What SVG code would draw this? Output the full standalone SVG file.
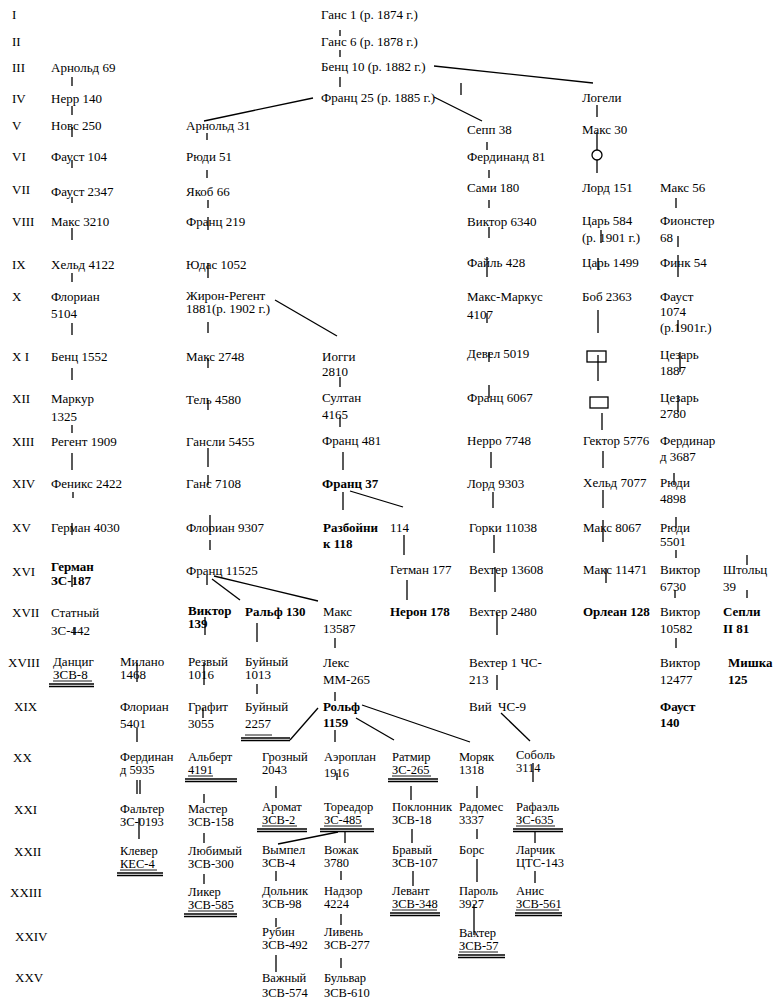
<svg xmlns="http://www.w3.org/2000/svg" width="773" height="1002" viewBox="0 0 773 1002">
<style>
text{font-family:"Liberation Serif","Times New Roman",serif;font-size:13px;fill:#000}
text.s{font-size:12.5px}
.b{font-weight:bold}
#connectors line{stroke:#000;stroke-width:1.3}
#connectors circle,#connectors rect{fill:none;stroke:#000;stroke-width:1.3}
.u1{stroke:#000;stroke-width:0.9}
.u2{stroke:#000;stroke-width:1.4}
</style>
<rect width="773" height="1002" fill="#fff"/>
<g id="rows">
<text x="12" y="19">I</text><text x="12" y="46">II</text><text x="12" y="72">III</text><text x="12" y="103">IV</text>
<text x="12" y="130">V</text><text x="12" y="161">VI</text><text x="12" y="194">VII</text><text x="12" y="226">VIII</text>
<text x="12" y="269">IX</text><text x="12" y="301">X</text><text x="12" y="361">X I</text><text x="12" y="403">XII</text>
<text x="12" y="446">XIII</text><text x="12" y="488">XIV</text><text x="12" y="532">XV</text><text x="12" y="576">XVI</text>
<text x="12" y="617">XVII</text><text x="8" y="667">XVIII</text><text x="14" y="711">XIX</text><text x="13" y="762">XX</text>
<text x="14" y="814">XXI</text><text x="14" y="856">XXII</text><text x="10" y="897">XXIII</text><text x="15" y="941">XXIV</text><text x="15" y="982">XXV</text>
</g>
<g id="connectors">
<line x1="340" y1="30" x2="340" y2="36"/><line x1="340" y1="50" x2="340" y2="57"/><line x1="340" y1="77" x2="340" y2="87"/>
<line x1="434" y1="66" x2="593" y2="83"/><line x1="461" y1="83" x2="461" y2="95"/>
<line x1="313" y1="98" x2="204" y2="121"/><line x1="434" y1="97" x2="482" y2="121"/>
<line x1="72" y1="77" x2="72" y2="86"/><line x1="72" y1="106" x2="72" y2="115"/><line x1="72" y1="127" x2="72" y2="137"/>
<line x1="72" y1="160" x2="72" y2="168"/><line x1="72" y1="197" x2="72" y2="203"/><line x1="72" y1="228" x2="72" y2="240"/>
<line x1="72" y1="273" x2="72" y2="282"/><line x1="72" y1="323" x2="72" y2="335"/><line x1="72" y1="368" x2="72" y2="380"/>
<line x1="72" y1="425" x2="72" y2="433"/><line x1="72" y1="453" x2="72" y2="470"/><line x1="73" y1="492" x2="73" y2="498"/>
<line x1="72" y1="523" x2="72" y2="535"/><line x1="72" y1="575" x2="72" y2="587"/><line x1="74" y1="627" x2="74" y2="635"/>
<line x1="207" y1="133" x2="207" y2="140"/><line x1="207" y1="170" x2="207" y2="178"/><line x1="208" y1="200" x2="208" y2="208"/>
<line x1="208" y1="217" x2="208" y2="230"/><line x1="208" y1="263" x2="208" y2="278"/><line x1="208" y1="322" x2="208" y2="333"/>
<line x1="208" y1="358" x2="208" y2="368"/><line x1="208" y1="400" x2="208" y2="410"/><line x1="208" y1="448" x2="208" y2="467"/>
<line x1="208" y1="475" x2="208" y2="485"/><line x1="210" y1="515" x2="210" y2="532"/><line x1="210" y1="540" x2="210" y2="550"/>
<line x1="207" y1="575" x2="207" y2="585"/>
<line x1="212" y1="579" x2="240" y2="600"/><line x1="214" y1="576" x2="318" y2="601"/>
<line x1="205" y1="617" x2="205" y2="635"/><line x1="257" y1="623" x2="257" y2="642"/><line x1="257" y1="684" x2="257" y2="694"/>
<line x1="204" y1="663" x2="204" y2="685"/><line x1="137" y1="663" x2="137" y2="682"/><line x1="203" y1="708" x2="203" y2="718"/>
<line x1="137" y1="728" x2="137" y2="742"/><line x1="290" y1="740" x2="318" y2="708"/>
<line x1="275" y1="300" x2="337" y2="336"/><line x1="340" y1="377" x2="340" y2="387"/><line x1="340" y1="417" x2="340" y2="427"/>
<line x1="343" y1="452" x2="343" y2="470"/><line x1="343" y1="492" x2="343" y2="510"/><line x1="350" y1="491" x2="403" y2="507"/>
<line x1="404" y1="535" x2="404" y2="555"/><line x1="407" y1="580" x2="407" y2="600"/>
<line x1="335" y1="638" x2="335" y2="648"/><line x1="335" y1="692" x2="335" y2="701"/><line x1="335" y1="730" x2="335" y2="742"/>
<line x1="356" y1="718" x2="394" y2="740"/><line x1="362" y1="705" x2="470" y2="742"/><line x1="501" y1="713" x2="530" y2="741"/>
<line x1="487" y1="142" x2="487" y2="150"/><line x1="489" y1="170" x2="489" y2="178"/><line x1="489" y1="200" x2="489" y2="208"/>
<line x1="489" y1="227" x2="489" y2="238"/><line x1="487" y1="257" x2="487" y2="277"/><line x1="487" y1="313" x2="487" y2="323"/>
<line x1="489" y1="352" x2="489" y2="362"/><line x1="489" y1="385" x2="489" y2="398"/><line x1="491" y1="452" x2="491" y2="468"/>
<line x1="493" y1="492" x2="493" y2="508"/><line x1="494" y1="535" x2="494" y2="553"/><line x1="495" y1="567" x2="495" y2="592"/>
<line x1="497" y1="613" x2="497" y2="635"/><line x1="497" y1="675" x2="497" y2="690"/>
<line x1="597" y1="105" x2="597" y2="117"/><line x1="597" y1="132" x2="597" y2="150"/><circle cx="597" cy="155" r="5"/>
<line x1="597" y1="160" x2="597" y2="173"/><line x1="601" y1="230" x2="601" y2="243"/><line x1="598" y1="258" x2="598" y2="270"/>
<line x1="598" y1="310" x2="598" y2="333"/><rect x="587" y="351" width="19" height="11"/><line x1="598" y1="355" x2="598" y2="381"/>
<rect x="590" y="397" width="18" height="11"/><line x1="602" y1="413" x2="602" y2="430"/><line x1="603" y1="451" x2="603" y2="468"/>
<line x1="603" y1="490" x2="603" y2="508"/><line x1="603" y1="520" x2="603" y2="542"/><line x1="606" y1="568" x2="606" y2="583"/>
<line x1="676" y1="198" x2="676" y2="208"/><line x1="678" y1="236" x2="678" y2="247"/><line x1="678" y1="255" x2="678" y2="277"/>
<line x1="678" y1="320" x2="678" y2="332"/><line x1="680" y1="352" x2="680" y2="372"/><line x1="678" y1="395" x2="678" y2="412"/>
<line x1="674" y1="473" x2="674" y2="485"/><line x1="676" y1="517" x2="676" y2="528"/><line x1="676" y1="550" x2="676" y2="558"/>
<line x1="675" y1="590" x2="675" y2="598"/><line x1="676" y1="638" x2="676" y2="648"/>
<line x1="747" y1="555" x2="747" y2="565"/><line x1="747" y1="590" x2="747" y2="598"/>
<line x1="137" y1="780" x2="137" y2="794"/><line x1="140" y1="780" x2="140" y2="794"/><line x1="139" y1="818" x2="139" y2="839"/>
<line x1="204" y1="794" x2="204" y2="803"/><line x1="204" y1="833" x2="204" y2="843"/><line x1="204" y1="874" x2="204" y2="884"/>
<line x1="276" y1="786" x2="276" y2="798"/><line x1="337" y1="773" x2="337" y2="780"/><line x1="338" y1="832" x2="278" y2="844"/>
<line x1="345" y1="832" x2="345" y2="843"/><line x1="411" y1="786" x2="411" y2="800"/><line x1="412" y1="829" x2="412" y2="843"/>
<line x1="413" y1="871" x2="413" y2="886"/><line x1="477" y1="786" x2="477" y2="798"/><line x1="477" y1="829" x2="477" y2="839"/>
<line x1="477" y1="859" x2="477" y2="882"/><line x1="474" y1="904" x2="474" y2="935"/>
<line x1="276" y1="871" x2="276" y2="881"/><line x1="276" y1="918" x2="276" y2="927"/><line x1="276" y1="955" x2="276" y2="972"/>
<line x1="341" y1="871" x2="341" y2="880"/><line x1="341" y1="914" x2="341" y2="925"/><line x1="341" y1="958" x2="341" y2="968"/>
<line x1="533" y1="763" x2="533" y2="782"/><line x1="535" y1="832" x2="535" y2="843"/><line x1="535" y1="871" x2="535" y2="883"/>
</g>
<!-- Column A -->
<g id="n-arnold69"><text x="51" y="72">Арнольд 69</text></g>
<g id="n-nerr140"><text x="51" y="103">Нерр 140</text></g>
<g id="n-novs250"><text x="51" y="130">Новс 250</text></g>
<g id="n-faust104"><text x="51" y="161">Фауст 104</text></g>
<g id="n-faust2347"><text x="51" y="196">Фауст 2347</text></g>
<g id="n-maks3210"><text x="51" y="226">Макс 3210</text></g>
<g id="n-held4122"><text x="51" y="269">Хельд 4122</text></g>
<g id="n-florian5104"><text x="51" y="301">Флориан<tspan x="51" y="318">5104</tspan></text></g>
<g id="n-benz1552"><text x="51" y="361">Бенц 1552</text></g>
<g id="n-markur1325"><text x="51" y="403">Маркур<tspan x="51" y="421">1325</tspan></text></g>
<g id="n-regent1909"><text x="51" y="446">Регент 1909</text></g>
<g id="n-feniks2422"><text x="51" y="488">Феникс 2422</text></g>
<g id="n-german4030"><text x="51" y="532">Герман 4030</text></g>
<g id="n-german187"><text class="b" x="51" y="571">Герман<tspan x="51" y="585">ЗС-187</tspan></text></g>
<g id="n-statny442"><text x="51" y="617">Статный<tspan x="51" y="635">ЗС-442</tspan></text></g>
<g id="n-danzig"><text x="53" y="666">Данциг<tspan x="53" y="679">ЗСВ-8</tspan></text>
<line class="u1" x1="53" y1="681" x2="92" y2="681"/><line class="u2" x1="49" y1="684" x2="94" y2="684"/><line class="u2" x1="49" y1="686.5" x2="94" y2="686.5"/></g>
<!-- Column B -->
<g id="n-arnold31"><text x="186" y="130">Арнольд 31</text></g>
<g id="n-rudi51"><text x="186" y="161">Рюди 51</text></g>
<g id="n-yakob66"><text x="186" y="196">Якоб 66</text></g>
<g id="n-franz219"><text x="186" y="226">Франц 219</text></g>
<g id="n-yudas1052"><text x="186" y="269">Юдас 1052</text></g>
<g id="n-zhiron"><text x="186" y="300">Жирон-Регент<tspan x="186" y="313">1881(р. 1902 г.)</tspan></text></g>
<g id="n-maks2748"><text x="186" y="361">Макс 2748</text></g>
<g id="n-tel4580"><text x="186" y="404">Тель 4580</text></g>
<g id="n-gansli5455"><text x="186" y="446">Гансли 5455</text></g>
<g id="n-gans7108"><text x="186" y="488">Ганс 7108</text></g>
<g id="n-florian9307"><text x="186" y="532">Флориан 9307</text></g>
<g id="n-franz11525"><text x="186" y="575">Франц 11525</text></g>
<g id="n-viktor139"><text class="b" x="188" y="615">Виктор<tspan x="188" y="628">139</tspan></text></g>
<g id="n-rezvy"><text x="188" y="666">Резвый<tspan x="188" y="679">1016</tspan></text></g>
<g id="n-grafit"><text x="188" y="711">Графит<tspan x="188" y="728">3055</tspan></text></g>
<g id="n-albert"><text class="s" x="188" y="761">Альберт<tspan x="188" y="774">4191</tspan></text>
<line class="u1" x1="188" y1="776" x2="213" y2="776"/><line class="u2" x1="185" y1="779" x2="237" y2="779"/><line class="u2" x1="185" y1="781.5" x2="237" y2="781.5"/></g>
<g id="n-master"><text class="s" x="188" y="813">Мастер<tspan x="188" y="826">ЗСВ-158</tspan></text></g>
<g id="n-lyubimy"><text class="s" x="188" y="855">Любимый<tspan x="188" y="868">ЗСВ-300</tspan></text></g>
<g id="n-liker"><text class="s" x="188" y="896">Ликер<tspan x="188" y="909">ЗСВ-585</tspan></text>
<line class="u1" x1="188" y1="911" x2="234" y2="911"/><line class="u2" x1="184" y1="914" x2="237" y2="914"/><line class="u2" x1="184" y1="916.5" x2="237" y2="916.5"/></g>
<!-- Milano column -->
<g id="n-milano"><text x="120" y="666">Милано<tspan x="120" y="679">1468</tspan></text></g>
<g id="n-florian5401"><text x="120" y="711">Флориан<tspan x="120" y="728">5401</tspan></text></g>
<g id="n-ferdinand5935"><text class="s" x="120" y="761">Фердинан<tspan x="120" y="774">д 5935</tspan></text></g>
<g id="n-falter"><text class="s" x="120" y="813">Фальтер<tspan x="120" y="826">ЗС-0193</tspan></text></g>
<g id="n-klever"><text class="s" x="120" y="855">Клевер<tspan x="120" y="868">КЕС-4</tspan></text>
<line class="u1" x1="120" y1="870" x2="157" y2="870"/><line class="u2" x1="117" y1="873" x2="163" y2="873"/><line class="u2" x1="117" y1="875.5" x2="163" y2="875.5"/></g>
<!-- Ralf column -->
<g id="n-ralf130"><text class="b" x="245" y="616">Ральф 130</text></g>
<g id="n-buyny1013"><text x="245" y="666">Буйный<tspan x="245" y="679">1013</tspan></text></g>
<g id="n-buyny2257"><text x="245" y="711">Буйный<tspan x="245" y="728">2257</tspan></text>
<line class="u1" x1="245" y1="735" x2="272" y2="735"/><line class="u2" x1="241" y1="738" x2="290" y2="738"/><line class="u2" x1="241" y1="740.5" x2="290" y2="740.5"/></g>
<!-- Grozny column -->
<g id="n-grozny"><text class="s" x="262" y="761">Грозный<tspan x="262" y="774">2043</tspan></text></g>
<g id="n-aromat"><text class="s" x="262" y="811">Аромат<tspan x="262" y="824">ЗСВ-2</tspan></text>
<line class="u1" x1="262" y1="826" x2="297" y2="826"/><line class="u2" x1="257" y1="829" x2="307" y2="829"/><line class="u2" x1="257" y1="831.5" x2="307" y2="831.5"/></g>
<g id="n-vympel"><text class="s" x="262" y="854">Вымпел<tspan x="262" y="867">ЗСВ-4</tspan></text></g>
<g id="n-dolnik"><text class="s" x="262" y="895">Дольник<tspan x="262" y="908">ЗСВ-98</tspan></text></g>
<g id="n-rubin"><text class="s" x="262" y="936">Рубин<tspan x="262" y="949">ЗСВ-492</tspan></text></g>
<g id="n-vazhny"><text class="s" x="262" y="982">Важный<tspan x="262" y="997">ЗСВ-574</tspan></text></g>
<!-- Center column -->
<g id="n-gans1"><text x="321" y="19">Ганс 1 (р. 1874 г.)</text></g>
<g id="n-gans6"><text x="321" y="46">Ганс 6 (р. 1878 г.)</text></g>
<g id="n-benz10"><text x="321" y="71">Бенц 10 (р. 1882 г.)</text></g>
<g id="n-franz25"><text x="321" y="102">Франц 25 (р. 1885 г.)</text></g>
<g id="n-iogi"><text x="322" y="361">Иогги<tspan x="322" y="376">2810</tspan></text></g>
<g id="n-sultan"><text x="322" y="402">Султан<tspan x="322" y="419">4165</tspan></text></g>
<g id="n-franz481"><text x="322" y="445">Франц 481</text></g>
<g id="n-franz37"><text class="b" x="322" y="488">Франц 37</text></g>
<g id="n-razboinik"><text class="b" x="323" y="532">Разбойни<tspan x="323" y="548">к 118</tspan></text></g>
<g id="n-maks13587"><text x="323" y="616">Макс<tspan x="323" y="633">13587</tspan></text></g>
<g id="n-leks"><text x="323" y="667">Лекс<tspan x="323" y="684">ММ-265</tspan></text></g>
<g id="n-rolf1159"><text class="b" x="323" y="711">Рольф<tspan x="323" y="727">1159</tspan></text></g>
<g id="n-aeroplan"><text class="s" x="324" y="761">Аэроплан<tspan x="324" y="777">1916</tspan></text></g>
<g id="n-toreador"><text class="s" x="324" y="811">Тореадор<tspan x="324" y="824">ЗС-485</tspan></text>
<line class="u1" x1="324" y1="826" x2="362" y2="826"/><line class="u2" x1="320" y1="829" x2="374" y2="829"/><line class="u2" x1="320" y1="831.5" x2="374" y2="831.5"/></g>
<g id="n-vozhak"><text class="s" x="324" y="854">Вожак<tspan x="324" y="867">3780</tspan></text></g>
<g id="n-nadzor"><text class="s" x="324" y="895">Надзор<tspan x="324" y="908">4224</tspan></text></g>
<g id="n-liven"><text class="s" x="324" y="936">Ливень<tspan x="324" y="949">ЗСВ-277</tspan></text></g>
<g id="n-bulvar"><text class="s" x="324" y="982">Бульвар<tspan x="324" y="997">ЗСВ-610</tspan></text></g>
<!-- 114 column -->
<g id="n-114"><text x="390" y="532">114</text></g>
<g id="n-getman177"><text x="390" y="574">Гетман 177</text></g>
<g id="n-neron178"><text class="b" x="390" y="616">Нерон 178</text></g>
<g id="n-ratmir"><text class="s" x="392" y="761">Ратмир<tspan x="392" y="774">ЗС-265</tspan></text>
<line class="u1" x1="392" y1="776" x2="431" y2="776"/><line class="u2" x1="388" y1="779" x2="438" y2="779"/><line class="u2" x1="388" y1="781.5" x2="438" y2="781.5"/></g>
<g id="n-poklonnik"><text class="s" x="392" y="811">Поклонник<tspan x="392" y="824">ЗСВ-18</tspan></text></g>
<g id="n-bravy"><text class="s" x="392" y="854">Бравый<tspan x="392" y="867">ЗСВ-107</tspan></text></g>
<g id="n-levant"><text class="s" x="392" y="895">Левант<tspan x="392" y="908">ЗСВ-348</tspan></text>
<line class="u1" x1="392" y1="910" x2="437" y2="910"/><line class="u2" x1="390" y1="913" x2="440" y2="913"/><line class="u2" x1="390" y1="915.5" x2="440" y2="915.5"/></g>
<!-- Column E -->
<g id="n-sepp38"><text x="467" y="134">Сепп 38</text></g>
<g id="n-ferdinand81"><text x="467" y="161">Фердинанд 81</text></g>
<g id="n-sami180"><text x="467" y="192">Сами 180</text></g>
<g id="n-viktor6340"><text x="467" y="226">Виктор 6340</text></g>
<g id="n-fail428"><text x="467" y="267">Файль 428</text></g>
<g id="n-maksmarkus"><text x="467" y="301">Макс-Маркус<tspan x="467" y="319">4107</tspan></text></g>
<g id="n-devel5019"><text x="467" y="358">Девел 5019</text></g>
<g id="n-franz6067"><text x="467" y="402">Франц 6067</text></g>
<g id="n-nerro7748"><text x="467" y="445">Нерро 7748</text></g>
<g id="n-lord9303"><text x="467" y="488">Лорд 9303</text></g>
<g id="n-gorki"><text x="469" y="532">Горки 11038</text></g>
<g id="n-vehter13608"><text x="469" y="574">Вехтер 13608</text></g>
<g id="n-vehter2480"><text x="469" y="616">Вехтер 2480</text></g>
<g id="n-vehter1"><text x="469" y="667">Вехтер 1 ЧС-<tspan x="469" y="684">213</tspan></text></g>
<g id="n-viy"><text x="469" y="711" xml:space="preserve">Вий  ЧС-9</text></g>
<!-- Moryak column -->
<g id="n-moryak"><text class="s" x="459" y="761">Моряк<tspan x="459" y="774">1318</tspan></text></g>
<g id="n-radomes"><text class="s" x="459" y="811">Радомес<tspan x="459" y="824">3337</tspan></text></g>
<g id="n-bors"><text class="s" x="459" y="854">Борс</text></g>
<g id="n-parol"><text class="s" x="459" y="895">Пароль<tspan x="459" y="908">3927</tspan></text></g>
<g id="n-vahter57"><text class="s" x="459" y="937">Вахтер<tspan x="459" y="950">ЗСВ-57</tspan></text>
<line class="u1" x1="459" y1="952" x2="498" y2="952"/><line class="u2" x1="458" y1="955" x2="505" y2="955"/><line class="u2" x1="458" y1="957.5" x2="505" y2="957.5"/></g>
<!-- Sobol column -->
<g id="n-sobol"><text class="s" x="516" y="759">Соболь<tspan x="516" y="772">3114</tspan></text></g>
<g id="n-rafael"><text class="s" x="516" y="811">Рафаэль<tspan x="516" y="824">ЗС-635</tspan></text>
<line class="u1" x1="516" y1="826" x2="555" y2="826"/><line class="u2" x1="513" y1="829" x2="563" y2="829"/><line class="u2" x1="513" y1="831.5" x2="563" y2="831.5"/></g>
<g id="n-larchik"><text class="s" x="516" y="854">Ларчик<tspan x="516" y="867">ЦТС-143</tspan></text></g>
<g id="n-anis"><text class="s" x="516" y="895">Анис<tspan x="516" y="908">ЗСВ-561</tspan></text>
<line class="u1" x1="516" y1="910" x2="559" y2="910"/><line class="u2" x1="515" y1="913" x2="562" y2="913"/><line class="u2" x1="515" y1="915.5" x2="562" y2="915.5"/></g>
<!-- Column F -->
<g id="n-logeli"><text x="582" y="102">Логели</text></g>
<g id="n-maks30"><text x="582" y="134">Макс 30</text></g>
<g id="n-lord151"><text x="582" y="192">Лорд 151</text></g>
<g id="n-tsar584"><text x="582" y="225">Царь 584<tspan x="582" y="242">(р. 1901 г.)</tspan></text></g>
<g id="n-tsar1499"><text x="582" y="267">Царь 1499</text></g>
<g id="n-bob2363"><text x="582" y="301">Боб 2363</text></g>
<g id="n-gektor5776"><text x="583" y="445">Гектор 5776</text></g>
<g id="n-held7077"><text x="583" y="487">Хельд 7077</text></g>
<g id="n-maks8067"><text x="583" y="532">Макс 8067</text></g>
<g id="n-maks11471"><text x="583" y="574">Макс 11471</text></g>
<g id="n-orlean128"><text class="b" x="583" y="616">Орлеан 128</text></g>
<!-- Column G -->
<g id="n-maks56"><text x="660" y="192">Макс 56</text></g>
<g id="n-fionster"><text x="660" y="225">Фионстер<tspan x="660" y="242">68</tspan></text></g>
<g id="n-fink54"><text x="660" y="267">Финк 54</text></g>
<g id="n-faust1074"><text x="660" y="301">Фауст<tspan x="660" y="316">1074</tspan><tspan x="660" y="332">(р.1901г.)</tspan></text></g>
<g id="n-tsezar1887"><text x="660" y="359">Цезарь<tspan x="660" y="375">1887</tspan></text></g>
<g id="n-tsezar2780"><text x="660" y="402">Цезарь<tspan x="660" y="418">2780</tspan></text></g>
<g id="n-ferdinar3687"><text x="660" y="445">Фердинар<tspan x="660" y="461">д 3687</tspan></text></g>
<g id="n-rudi4898"><text x="660" y="487">Рюди<tspan x="660" y="503">4898</tspan></text></g>
<g id="n-rudi5501"><text x="660" y="532">Рюди<tspan x="660" y="546">5501</tspan></text></g>
<g id="n-viktor6730"><text x="660" y="574">Виктор<tspan x="660" y="591">6730</tspan></text></g>
<g id="n-viktor10582"><text x="660" y="616">Виктор<tspan x="660" y="633">10582</tspan></text></g>
<g id="n-viktor12477"><text x="660" y="667">Виктор<tspan x="660" y="684">12477</tspan></text></g>
<g id="n-faust140"><text class="b" x="660" y="711">Фауст<tspan x="660" y="727">140</tspan></text></g>
<!-- Column H -->
<g id="n-shtolts39"><text x="723" y="574">Штольц<tspan x="723" y="591">39</tspan></text></g>
<g id="n-sepli"><text class="b" x="723" y="616">Сепли<tspan x="723" y="633">II 81</tspan></text></g>
<g id="n-mishka"><text class="b" x="728" y="667">Мишка<tspan x="728" y="684">125</tspan></text></g>
</svg>
